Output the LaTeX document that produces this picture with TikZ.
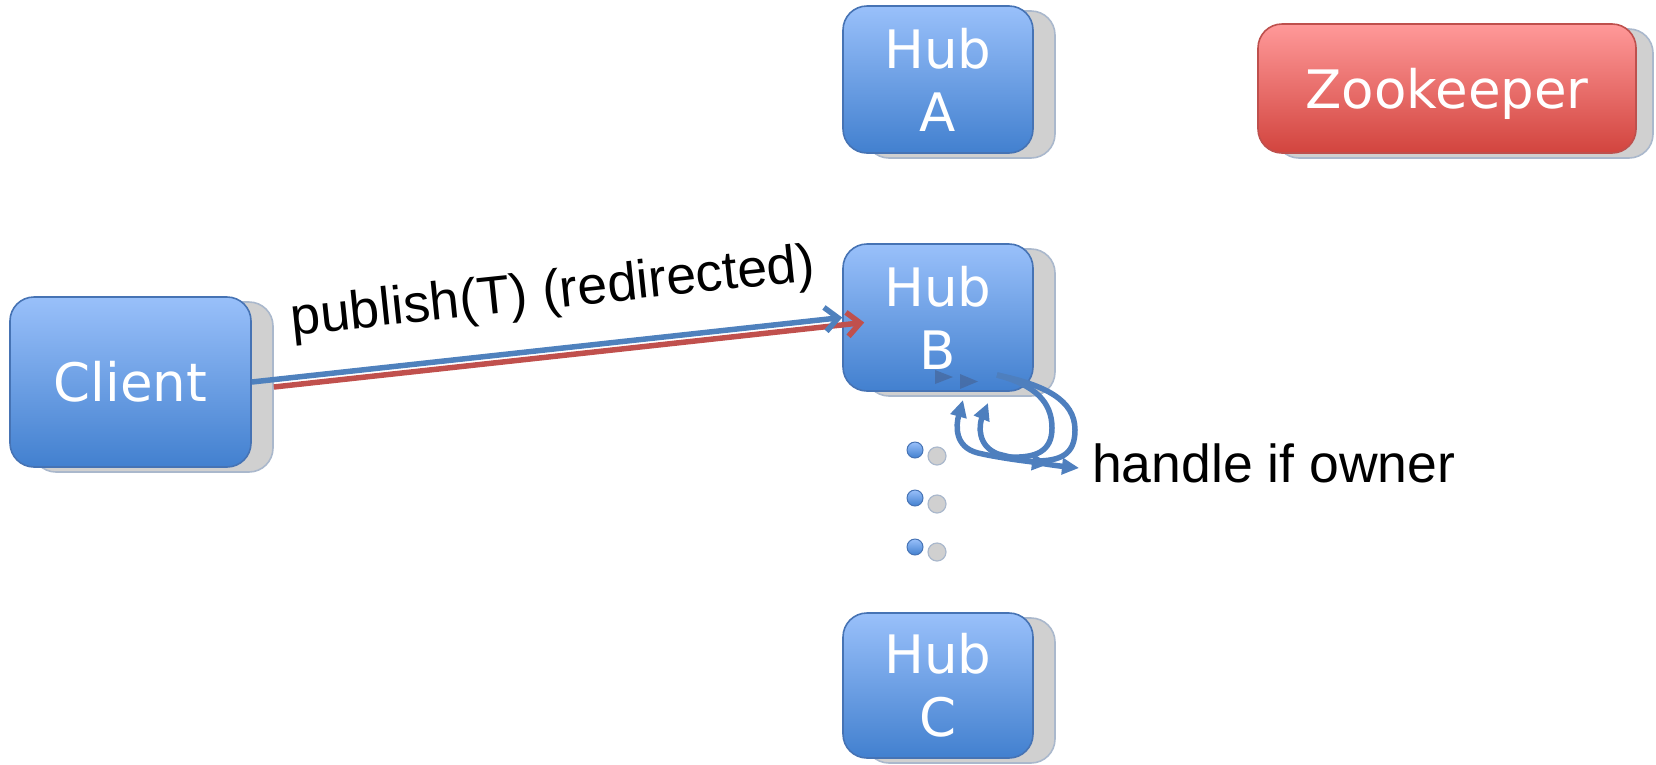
\documentclass[tikz,border=0pt]{standalone}
\usepackage{fontspec}
\setmainfont{Liberation Sans}
\newfontfamily\boxfont{DejaVu Sans}
\usetikzlibrary{arrows.meta}

\definecolor{boxtop}{RGB}{153,192,250}
\definecolor{boxbot}{RGB}{66,128,207}
\definecolor{boxedge}{RGB}{70,115,180}
\definecolor{zktop}{RGB}{255,153,153}
\definecolor{zkbot}{RGB}{210,68,62}
\definecolor{zkedge}{RGB}{190,80,77}
\definecolor{shfill}{RGB}{208,208,208}
\definecolor{shedge}{RGB}{170,184,204}
\definecolor{linkblue}{RGB}{79,129,189}
\definecolor{linkred}{RGB}{192,80,77}
\definecolor{loopblue}{RGB}{78,127,190}
\definecolor{ghosttri}{RGB}{70,100,150}

\tikzset{
  hubbox/.style={draw=boxedge, line width=1.6pt, rounded corners=24pt,
    top color=boxtop, bottom color=boxbot, text=white,
    font={\boxfont\fontsize{53}{63}\selectfont}, align=center, inner sep=0pt},
  zkbox/.style={hubbox, draw=zkedge, top color=zktop, bottom color=zkbot},
  shadowbox/.style={draw=shedge, line width=1.6pt, rounded corners=24pt,
    fill=shfill, inner sep=0pt},
  link/.style={line width=5.5pt, -{Straight Barb[length=13pt,width=24pt]}},
  loopline/.style={line width=5.5pt, draw=loopblue},
  looptip/.tip={Triangle[length=17pt,width=16pt]},
  bluedot/.style={circle, inner sep=0pt, minimum size=16pt, draw=boxedge,
    line width=1pt, top color=boxtop, bottom color=boxbot},
  greydot/.style={circle, inner sep=0pt, minimum size=18pt, draw=shedge,
    line width=1.2pt, fill=shfill},
  lbl/.style={font={\fontsize{53.5}{60}\selectfont}, inner sep=0pt, text=black}
}

\begin{document}
\begin{tikzpicture}[x=1pt, y=-1pt]
\useasboundingbox (0,0) rectangle (1656,764);

% shadows behind the boxes
\node[shadowbox, minimum width=190pt, minimum height=147pt] (hubAsh) at (960,84.5) {};
\node[shadowbox, minimum width=190pt, minimum height=147pt] (hubBsh) at (960,322.5) {};
\node[shadowbox, minimum width=190pt, minimum height=145pt] (hubCsh) at (960,690.5) {};
\node[shadowbox, minimum width=241pt, minimum height=170pt] (clientsh) at (152.5,387) {};
\node[shadowbox, minimum width=378pt, minimum height=129pt] (zksh) at (1464,93.5) {};

% boxes
\node[hubbox, minimum width=190pt, minimum height=147pt] (hubA) at (938,79.5) {Hub\\A};
\node[hubbox, minimum width=190pt, minimum height=147pt] (hubB) at (938,317.5) {Hub\\B};
\node[hubbox, minimum width=190pt, minimum height=145pt] (hubC) at (938,685.5) {Hub\\C};
\node[hubbox, minimum width=241pt, minimum height=170pt] (client) at (130.5,382) {Client};
\node[zkbox, minimum width=378pt, minimum height=129pt, text depth=0pt] (zk) at (1447,88.5) {Zookeeper};

% publish request and its redirection
\draw[link, linkred] (clientsh.east) -- (hubBsh.west);
\draw[link, linkblue] (client.east) -- (hubB.west);
\node[lbl, rotate=6] (pubLbl) at (553,294) {publish(T) (redirected)};

% faint tips inside Hub B
\fill[ghosttri, opacity=0.65] (935,370) -- (953,377) -- (935,384) -- cycle;
\fill[ghosttri, opacity=0.65] (960,374) -- (978,381.5) -- (960,389) -- cycle;

% loops back into Hub B and out to the owner check
\coordinate (lpS) at (997,375);
\coordinate (lpUi) at (963,400);
\coordinate (lpRi) at (1049,464);
\coordinate (lpUo) at (988,403);
\coordinate (lpRo) at (1079,468);
\coordinate (lpJi) at (1010,457);
\coordinate (lpJo) at (1035,461);

\draw[loopline] (lpS) .. controls (1035,385) and (1052,402) .. (1052,428)
  .. controls (1052,452) and (1035,458) .. (lpJi);
\draw[loopline] (lpS) .. controls (1045,385) and (1075,400) .. (1075,430)
  .. controls (1075,455) and (1060,461) .. (lpJo);
\draw[loopline, looptip-looptip] (lpUi) .. controls (956,425) and (954,447) .. (978,453)
  .. controls (1000,458) and (1025,461) .. (lpRi);
\draw[loopline, looptip-looptip] (lpUo) .. controls (979,425) and (977,446) .. (998,454)
  .. controls (1025,461) and (1050,465) .. (lpRo);

\node[lbl, anchor=base west] (ownLbl) at (1092,482) {handle if owner};

% ellipsis between Hub B and Hub C
\node[bluedot] (d1) at (915,450) {};
\node[bluedot] (d2) at (915,498) {};
\node[bluedot] (d3) at (915,547) {};
\node[greydot] (g1) at (937,456) {};
\node[greydot] (g2) at (937,504) {};
\node[greydot] (g3) at (937,552) {};
\end{tikzpicture}
\end{document}
